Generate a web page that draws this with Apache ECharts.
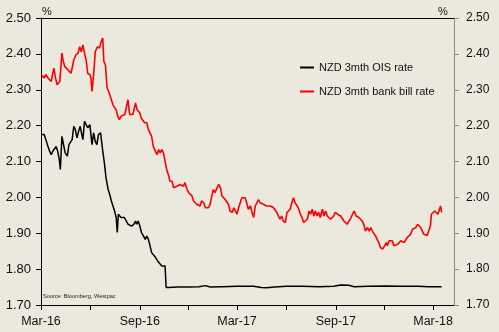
<!DOCTYPE html>
<html>
<head>
<meta charset="utf-8">
<script src="https://cdn.jsdelivr.net/npm/echarts@6/dist/echarts.min.js"></script>
<style>
html,body{margin:0;padding:0;background:#ebe8de;}
#chart{width:499px;height:332px;}
</style>
</head>
<body>
<div id="chart"></div>
<script>
var seriesNames = ['NZD 3mth OIS rate', 'NZD 3mth bank bill rate'];
var tickDates = ['2016-03-01','2016-06-01','2016-09-01','2016-12-01','2017-03-01','2017-06-01','2017-09-01','2017-12-01','2018-03-01'];
var labelDates = ['2016-03-01','2016-09-01','2017-03-01','2017-09-01','2018-03-01'];
var labelTexts = ['Mar-16','Sep-16','Mar-17','Sep-17','Mar-18'];
var yTicks = [1.70,1.80,1.90,2.00,2.10,2.20,2.30,2.40,2.50];

var oisDates = ['2016-03-01','2016-03-04','2016-03-07','2016-03-10','2016-03-14','2016-03-17','2016-03-20','2016-03-23','2016-03-26','2016-03-29',
'2016-04-01','2016-04-04','2016-04-06','2016-04-09','2016-04-12','2016-04-15','2016-04-19','2016-04-22','2016-04-25','2016-04-28',
'2016-05-01','2016-05-04','2016-05-07','2016-05-10','2016-05-13','2016-05-16','2016-05-18','2016-05-21','2016-05-24','2016-05-27',
'2016-05-31','2016-06-02','2016-06-04','2016-06-07','2016-06-10','2016-06-13','2016-06-16','2016-06-20','2016-06-22','2016-06-24',
'2016-06-27','2016-06-30','2016-07-04','2016-07-07','2016-07-10','2016-07-13','2016-07-16','2016-07-19','2016-07-21','2016-07-23',
'2016-07-28','2016-08-03','2016-08-07','2016-08-10','2016-08-13','2016-08-17','2016-08-21','2016-08-24','2016-08-26','2016-08-29',
'2016-09-01','2016-09-04','2016-09-08','2016-09-11','2016-09-14','2016-09-17','2016-09-20','2016-09-23','2016-09-26','2016-09-30',
'2016-10-03','2016-10-06','2016-10-09','2016-10-12','2016-10-15','2016-10-18','2016-10-20','2016-10-24',
'2016-11-10','2016-12-01','2016-12-20','2017-01-01','2017-01-10','2017-02-01','2017-03-01','2017-04-01','2017-04-15','2017-04-25',
'2017-05-10','2017-06-01','2017-07-01','2017-08-01','2017-08-28','2017-09-10','2017-09-25','2017-10-05','2017-11-01','2017-12-01',
'2018-01-01','2018-02-01','2018-02-20','2018-03-17'];
var oisValues = [2.175,2.170,2.175,2.161,2.142,2.129,2.119,2.129,2.124,2.142,
2.129,2.106,2.078,2.170,2.170,2.124,2.115,2.147,2.152,2.161,
2.198,2.189,2.166,2.184,2.198,2.175,2.161,2.212,2.208,2.194,
2.203,2.175,2.147,2.180,2.156,2.147,2.175,2.180,2.175,2.129,
2.096,2.055,2.022,2.008,1.990,1.976,1.962,1.944,1.902,1.953,
1.944,1.944,1.934,1.925,1.930,1.920,1.925,1.934,1.925,1.934,
1.920,1.902,1.892,1.883,1.892,1.883,1.865,1.846,1.842,1.833,
1.828,1.819,1.814,1.809,1.814,1.809,1.749,1.749,
1.750,1.750,1.751,1.754,1.750,1.751,1.752,1.752,1.749,1.748,
1.750,1.752,1.752,1.751,1.752,1.756,1.755,1.751,1.752,1.753,
1.752,1.752,1.751,1.751];

var billDates = ['2016-03-01','2016-03-04','2016-03-07','2016-03-10','2016-03-14','2016-03-17','2016-03-20','2016-03-23','2016-03-25','2016-03-28',
'2016-03-31','2016-04-03','2016-04-05','2016-04-09','2016-04-11','2016-04-14','2016-04-20','2016-04-26','2016-05-01','2016-05-05',
'2016-05-09','2016-05-12','2016-05-15','2016-05-18','2016-05-21','2016-05-24','2016-05-27','2016-05-31','2016-06-02','2016-06-04',
'2016-06-07','2016-06-10','2016-06-14','2016-06-18','2016-06-21','2016-06-24','2016-06-26','2016-06-29','2016-07-02','2016-07-05',
'2016-07-09','2016-07-13','2016-07-16','2016-07-19','2016-07-22','2016-07-25','2016-07-28','2016-08-04','2016-08-07','2016-08-10',
'2016-08-13','2016-08-19','2016-08-24','2016-08-27','2016-09-01','2016-09-04','2016-09-10','2016-09-14','2016-09-17','2016-09-20',
'2016-09-23','2016-09-26','2016-09-30','2016-10-03','2016-10-06','2016-10-09','2016-10-12','2016-10-15','2016-10-18','2016-10-21',
'2016-10-24','2016-10-27','2016-10-31','2016-11-03','2016-11-06','2016-11-09','2016-11-12','2016-11-15','2016-11-18','2016-11-21',
'2016-11-24','2016-11-28','2016-12-01','2016-12-04','2016-12-07','2016-12-10','2016-12-13','2016-12-16','2016-12-19','2016-12-22',
'2016-12-25','2016-12-29','2017-01-01','2017-01-04','2017-01-07','2017-01-10','2017-01-13','2017-01-16','2017-01-19','2017-01-23',
'2017-01-26','2017-01-29','2017-02-01','2017-02-04','2017-02-07','2017-02-10','2017-02-13','2017-02-16','2017-02-20','2017-02-23',
'2017-02-26','2017-03-01','2017-03-04','2017-03-07','2017-03-10','2017-03-13','2017-03-16','2017-03-19','2017-03-22','2017-03-26',
'2017-03-29','2017-04-01','2017-04-04','2017-04-07','2017-04-10','2017-04-13','2017-04-16','2017-04-19','2017-04-22','2017-04-25',
'2017-04-28','2017-05-02','2017-05-05','2017-05-08','2017-05-11','2017-05-14','2017-05-17','2017-05-20','2017-05-23','2017-05-26',
'2017-05-30','2017-06-02','2017-06-05','2017-06-08','2017-06-11','2017-06-14','2017-06-17','2017-06-21','2017-06-24','2017-06-27',
'2017-06-30','2017-07-03','2017-07-06','2017-07-10','2017-07-13','2017-07-16','2017-07-19','2017-07-22','2017-07-25','2017-07-28',
'2017-07-31','2017-08-03','2017-08-07','2017-08-10','2017-08-13','2017-08-16','2017-08-19','2017-08-22','2017-08-25','2017-08-28',
'2017-08-31','2017-09-04','2017-09-07','2017-09-10','2017-09-13','2017-09-16','2017-09-19','2017-09-22','2017-09-25','2017-09-28',
'2017-10-02','2017-10-05','2017-10-07','2017-10-09','2017-10-14','2017-10-20','2017-10-23','2017-10-26','2017-10-30','2017-11-02',
'2017-11-05','2017-11-08','2017-11-11','2017-11-14','2017-11-17','2017-11-20','2017-11-23','2017-11-27','2017-11-30','2017-12-01',
'2017-12-04','2017-12-06','2017-12-09','2017-12-12','2017-12-15','2017-12-18','2017-12-21','2017-12-25','2017-12-28','2017-12-31',
'2018-01-03','2018-01-06','2018-01-09','2018-01-12','2018-01-15','2018-01-18','2018-01-22','2018-01-25','2018-01-28','2018-01-31',
'2018-02-03','2018-02-06','2018-02-09','2018-02-12','2018-02-15','2018-02-18','2018-02-21','2018-02-24','2018-02-26','2018-03-01',
'2018-03-04','2018-03-07','2018-03-10','2018-03-13','2018-03-15','2018-03-17'];
var billValues = [2.342,2.346,2.333,2.342,2.333,2.337,2.323,2.346,2.360,2.333,
2.314,2.314,2.323,2.402,2.383,2.365,2.356,2.346,2.383,2.397,
2.402,2.420,2.406,2.425,2.402,2.383,2.346,2.342,2.333,2.295,
2.342,2.406,2.420,2.416,2.434,2.444,2.379,2.369,2.305,2.295,
2.277,2.258,2.254,2.244,2.226,2.217,2.226,2.231,2.235,2.272,
2.231,2.231,2.263,2.244,2.235,2.220,2.208,2.208,2.189,2.194,
2.170,2.142,2.129,2.119,2.133,2.124,2.133,2.124,2.119,2.078,
2.064,2.045,2.045,2.027,2.022,2.031,2.036,2.036,2.041,2.031,
2.041,2.022,2.013,2.008,2.004,1.990,1.985,1.981,1.981,1.976,
1.990,1.985,1.971,1.976,1.971,1.981,2.004,2.022,2.013,2.027,
2.036,2.027,2.004,2.004,1.994,1.999,1.981,1.962,1.958,1.971,
1.967,1.953,1.971,1.976,1.999,2.004,1.999,1.985,1.967,1.976,
1.958,1.944,1.976,1.971,1.994,1.985,1.990,1.981,1.985,1.976,
1.981,1.976,1.971,1.971,1.967,1.958,1.948,1.939,1.948,1.934,
1.930,1.958,1.962,1.967,1.985,1.999,1.985,1.976,1.967,1.953,
1.944,1.930,1.925,1.939,1.962,1.953,1.967,1.948,1.962,1.948,
1.958,1.944,1.967,1.948,1.962,1.948,1.944,1.939,1.944,1.948,
1.958,1.953,1.958,1.948,1.953,1.934,1.939,1.925,1.930,1.940,
1.953,1.962,1.967,1.948,1.944,1.934,1.925,1.906,1.916,1.906,
1.916,1.906,1.902,1.892,1.883,1.874,1.860,1.856,1.851,1.865,
1.874,1.865,1.879,1.874,1.879,1.865,1.869,1.869,1.874,1.879,
1.879,1.874,1.879,1.888,1.883,1.897,1.911,1.906,1.916,1.925,
1.920,1.916,1.906,1.897,1.897,1.894,1.897,1.920,1.953,1.958,
1.962,1.967,1.953,1.967,1.976,1.958];

function ts(s){ var p = s.split('-'); return Date.UTC(+p[0], +p[1]-1, +p[2]); }
function pairs(d, v){ var out=[]; var n=Math.min(d.length,v.length); for(var i=0;i<n;i++){ out.push([ts(d[i]), v[i]]); } return out; }

var xMin = ts('2016-03-01');
var xMax = ts('2018-04-09');
var tickTs = tickDates.map(ts);
var labelTs = labelDates.map(ts);

function labelFor(val){
  var best = 0, bd = Infinity;
  for (var k = 0; k < labelTs.length; k++) { var d = Math.abs(labelTs[k] - val); if (d < bd) { bd = d; best = k; } }
  return labelTexts[best];
}

var chart = echarts.init(document.getElementById('chart'), null, {renderer:'canvas'});
var font = 'Liberation Sans, Arial, sans-serif';
chart.setOption({
  animation: false,
  backgroundColor: '#ebe8de',
  textStyle: {fontFamily: font},
  grid: {left: 41, right: 45, top: 18, bottom: 27, containLabel: false},
  legend: {
    orient: 'vertical', left: 300, top: 61, itemGap: 11, padding: 0,
    icon: 'rect', itemWidth: 14, itemHeight: 2,
    textStyle: {fontSize: 11, color: '#111', fontFamily: font, lineHeight: 13},
    data: [seriesNames[0], seriesNames[1]]
  },
  xAxis: [{
    type: 'value', min: xMin, max: xMax, scale: true,
    axisLine: {lineStyle: {color: '#000', width: 1}},
    axisTick: {show: true, length: 5, inside: false, customValues: tickTs, lineStyle: {color: '#000'}},
    axisLabel: {customValues: labelTs, fontSize: 12.5, color: '#111', margin: 10, fontFamily: font,
      showMinLabel: true, showMaxLabel: true, formatter: labelFor},
    splitLine: {show: false}
  }, {
    type: 'value', min: xMin, max: xMax, position: 'top', scale: true,
    axisLine: {lineStyle: {color: '#000', width: 1}},
    axisTick: {show: false}, axisLabel: {show: false}, splitLine: {show: false}
  }],
  yAxis: [{
    type: 'value', min: 1.7, max: 2.5, interval: 0.1, position: 'left',
    axisLine: {show: true, lineStyle: {color: '#000', width: 1}},
    axisTick: {show: true, length: 5, lineStyle: {color: '#000'}},
    axisLabel: {fontSize: 13, color: '#111', margin: 10, fontFamily: font, formatter: function(v){ return v.toFixed(2); }},
    splitLine: {show: false}
  }, {
    type: 'value', min: 1.7, max: 2.5, interval: 0.1, position: 'right',
    axisLine: {show: true, lineStyle: {color: '#8a8a8a', width: 1}},
    axisTick: {show: true, length: 5, lineStyle: {color: '#8a8a8a'}},
    axisLabel: {fontSize: 12, color: '#111', margin: 12, fontFamily: font, formatter: function(v){ return v.toFixed(2); }},
    splitLine: {show: false}
  }],
  graphic: [
    {type: 'text', left: 42, top: 6, style: {text: '%', fontSize: 11, fill: '#111', fontFamily: font}},
    {type: 'text', left: 438, top: 6, style: {text: '%', fontSize: 11, fill: '#111', fontFamily: font}},
    {type: 'text', left: 43, top: 293, style: {text: 'Source: Bloomberg, Westpac', fontSize: 5.6, fill: '#222', fontFamily: font}}
  ],
  series: [{
    name: seriesNames[0], type: 'line', xAxisIndex: 0, yAxisIndex: 0,
    data: pairs(oisDates, oisValues), showSymbol: false, symbol: 'none',
    lineStyle: {color: '#000', width: 1.5}, itemStyle: {color: '#000'}
  }, {
    name: seriesNames[1], type: 'line', xAxisIndex: 0, yAxisIndex: 0,
    data: pairs(billDates, billValues), showSymbol: false, symbol: 'none',
    lineStyle: {color: '#ff0000', width: 1.6}, itemStyle: {color: '#ff0000'}
  }]
});
</script>
</body>
</html>
